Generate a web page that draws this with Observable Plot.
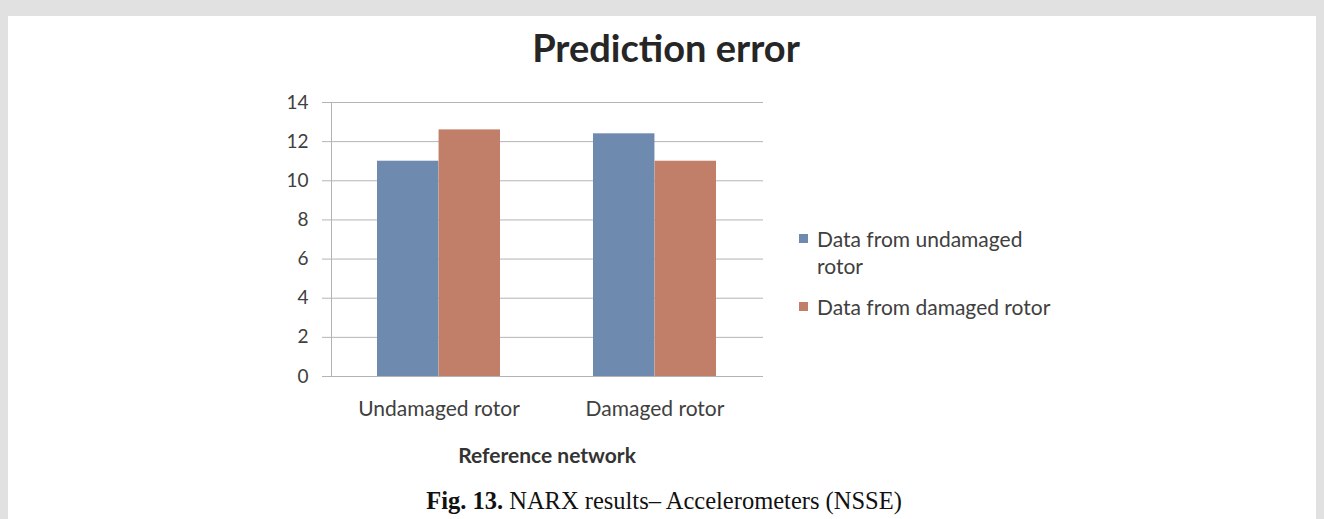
<!DOCTYPE html>
<html>
<head>
<meta charset="utf-8">
<script src="https://cdn.jsdelivr.net/npm/d3@7"></script>
<script src="https://cdn.jsdelivr.net/npm/@observablehq/plot@0.6"></script>
<style>
  html, body { margin: 0; padding: 0; }
  body { width: 1324px; height: 519px; background: #e1e1e1; position: relative; overflow: hidden; font-family: Lato, "Open Sans", sans-serif; }
  #panel { position: absolute; left: 8px; top: 16px; width: 1308px; height: 503px; background: #fff; }
  .abs { position: absolute; white-space: nowrap; }
  #title { left: 4px; width: 1324px; text-align: center; top: 24px; font-size: 38px; font-weight: bold; color: #262626; }
  #chart { position: absolute; left: 271px; top: 80px; }
  #xlabel { left: 347px; width: 400px; text-align: center; top: 442px; font-size: 21px; font-weight: bold; color: #333; }
  #caption { left: 2px; width: 1324px; text-align: center; top: 487px; font-family: "Liberation Serif", "Times New Roman", serif; font-size: 24.5px; color: #111; }
  .leg { font-size: 21px; color: #404040; line-height: 27px; }
  .sw { position: absolute; width: 9px; height: 9px; }
</style>
</head>
<body>
<div id="panel"></div>
<div id="title" class="abs">Prediction error</div>
<div id="chart"></div>
<div id="xlabel" class="abs">Reference network</div>
<div id="legend"></div>
<div id="caption" class="abs"><b>Fig. 13.</b> NARX results– Accelerometers (NSSE)</div>
<script>
const categories = ["Undamaged rotor", "Damaged rotor"];
const seriesNames = ["Data from undamaged rotor", "Data from damaged rotor"];
const undamagedValues = [11.0, 12.4];
const damagedValues = [12.6, 11.0];
const yTicks = [0, 2, 4, 6, 8, 10, 12, 14];
const colors = ["#6f8aaf", "#c17f69"];

const rowsA = categories.map((c, i) => ({category: c, series: seriesNames[0], value: undamagedValues[i]}));
const rowsB = categories.map((c, i) => ({category: c, series: seriesNames[1], value: damagedValues[i]}));

const marginLeft = 60, marginRight = 10, marginTop = 22, marginBottom = 95;
const frameW = 432, frameH = 274;
const paddingInner = 0.43, paddingOuter = 0.215;
const step = frameW / (categories.length - paddingInner + 2 * paddingOuter);
const halfBand = step * (1 - paddingInner) / 2;

const gridColor = "#b4b4b4";

const chart = Plot.plot({
  width: marginLeft + frameW + marginRight,
  height: marginTop + frameH + marginBottom,
  marginLeft, marginRight, marginTop, marginBottom,
  style: {fontFamily: "Lato, 'Open Sans', sans-serif", fontSize: "19px", color: "#404040", background: "transparent", overflow: "visible"},
  x: {domain: categories, paddingInner, paddingOuter, label: null},
  y: {domain: [0, 14], label: null},
  marks: [
    Plot.gridY(yTicks, {stroke: gridColor, strokeOpacity: 1, strokeWidth: 1}),
    Plot.frame({anchor: "left", stroke: gridColor, strokeWidth: 1}),
    Plot.axisY(yTicks, {tickSize: 9, tickPadding: 14, stroke: gridColor, strokeOpacity: 1, fill: "#404040", fontSize: 19, label: null}),
    Plot.axisX({tickSize: 0, tickPadding: 25, fill: "#404040", fontSize: 21, label: null}),
    Plot.barY(rowsA, {x: "category", y: "value", fill: colors[0], insetRight: halfBand}),
    Plot.barY(rowsB, {x: "category", y: "value", fill: colors[1], insetLeft: halfBand}),
    Plot.ruleY([0], {stroke: gridColor, strokeWidth: 1})
  ]
});
document.getElementById("chart").appendChild(chart);

const legend = document.getElementById("legend");
const legendItems = [
  {name: seriesNames[0], lines: ["Data from undamaged", "rotor"], top: 225, color: colors[0]},
  {name: seriesNames[1], lines: ["Data from damaged rotor"], top: 293, color: colors[1]}
];
legendItems.forEach(it => {
  const sw = document.createElement("div");
  sw.className = "sw";
  sw.style.left = "799px";
  sw.style.top = (it.top + 9) + "px";
  sw.style.background = it.color;
  legend.appendChild(sw);
  const t = document.createElement("div");
  t.className = "abs leg";
  t.style.left = "817px";
  t.style.top = it.top + "px";
  t.innerHTML = it.lines.join("<br>");
  legend.appendChild(t);
});
</script>
</body>
</html>
